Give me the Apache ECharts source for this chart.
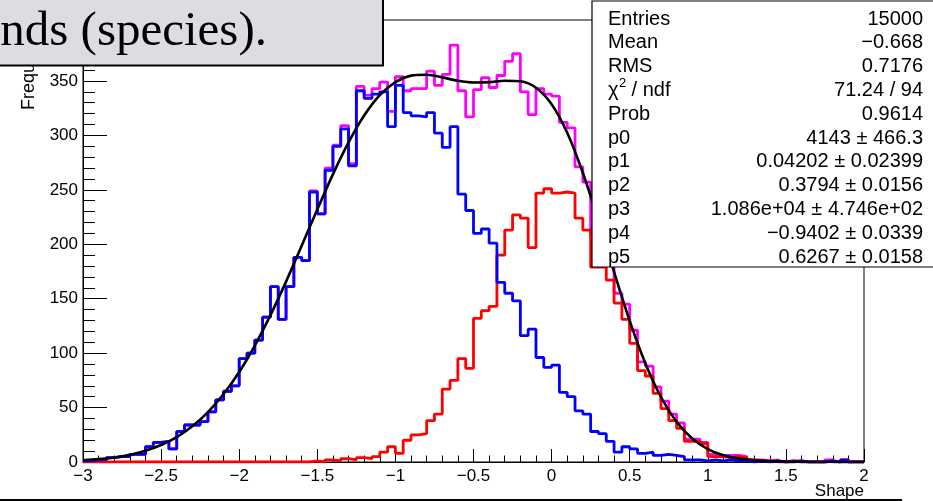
<!DOCTYPE html>
<html>
<head>
<meta charset="utf-8">
<script src="https://cdn.jsdelivr.net/npm/echarts@6/dist/echarts.min.js"></script>
<style>
  html, body { margin: 0; padding: 0; background: #fff; }
  #chart { width: 933px; height: 501px; }
</style>
</head>
<body>
<div id="chart"></div>
<script>
// histogram binning: 100 bins of 0.05 from -3 to 2
const binLow = -3;
const binWidth = 0.05;

// total (magenta)
const totalCounts = [
  1, 2, 2, 4, 5, 5, 7, 7, 14, 18,
  19, 12, 28, 34, 34, 37, 46, 57, 65, 70,
  95, 100, 112, 133, 161, 131, 161, 188, 185, 249,
  228, 270, 291, 309, 274, 345, 337, 343, 349, 322,
  354, 341, 343, 343, 359, 346, 356, 383, 341, 317,
  342, 353, 344, 355, 368, 375, 340, 319, 343, 338,
  336, 312, 307, 271, 257, 207, 205, 186, 155, 145,
  121, 92, 88, 69, 56, 44, 36, 21, 21, 18,
  7, 6, 6, 6, 5, 2, 2, 1, 2, 0,
  1, 1, 0, 0, 0, 2, 0, 2, 0, 0
];
// species 1 (blue)
const blueCounts = [
  1, 2, 2, 4, 5, 5, 7, 7, 14, 18,
  19, 12, 28, 34, 34, 37, 46, 57, 65, 70,
  95, 100, 112, 133, 161, 131, 161, 188, 185, 248,
  228, 268, 290, 306, 272, 341, 334, 338, 340, 308,
  346, 321, 318, 317, 321, 302, 289, 308, 246, 231,
  210, 214, 201, 165, 155, 148, 116, 122, 96, 87,
  89, 64, 60, 47, 44, 28, 26, 19, 9, 14,
  12, 8, 9, 6, 7, 6, 5, 2, 2, 1,
  2, 1, 2, 1, 1, 0, 1, 0, 1, 0,
  0, 1, 0, 0, 0, 1, 0, 2, 0, 0
];
// species 2 (red)
const redCounts = [
  0, 0, 0, 0, 0, 0, 0, 0, 0, 0,
  0, 0, 0, 0, 0, 0, 0, 0, 0, 0,
  0, 0, 0, 0, 0, 0, 0, 0, 0, 1,
  0, 2, 1, 3, 2, 4, 3, 5, 9, 14,
  8, 20, 25, 26, 38, 44, 67, 75, 95, 86,
  132, 139, 143, 190, 213, 227, 224, 197, 247, 251,
  247, 248, 247, 224, 213, 179, 179, 167, 146, 131,
  109, 84, 79, 63, 49, 38, 31, 19, 19, 17,
  5, 5, 4, 5, 4, 2, 1, 1, 1, 0,
  1, 0, 0, 0, 0, 1, 0, 0, 0, 0
];

// fit curve, sampled every 0.1 from -3 to 2
const fitStart = -3;
const fitStep = 0.1;
const fitValues = [
  1.6, 2.6, 4.2, 6.7, 10.4, 15.6, 22.9, 32.8, 45.8, 62.4,
  82.7, 107.0, 134.9, 165.7, 198.6, 232.0, 264.2, 293.5, 318.2, 336.9,
  349.0, 354.9, 355.7, 353.3, 350.2, 348.6, 348.9, 350.2, 349.7, 343.8,
  328.7, 302.5, 265.7, 221.7, 174.6, 129.7, 90.8, 59.7, 36.9, 21.5,
  11.9, 6.2, 3.1, 1.5, 0.7, 0.3, 0.1, 0.05, 0.02, 0.01, 0
];

const statRows = [
  ['Entries', '15000'],
  ['Mean', '\u22120.668'],
  ['RMS', '0.7176'],
  ['CHI', '71.24 / 94'],
  ['Prob', '0.9614'],
  ['p0', '4143 \u00b1 466.3'],
  ['p1', '0.04202 \u00b1 0.02399'],
  ['p2', '0.3794 \u00b1 0.0156'],
  ['p3', '1.086e+04 \u00b1 4.746e+02'],
  ['p4', '\u22120.9402 \u00b1 0.0339'],
  ['p5', '0.6267 \u00b1 0.0158']
];

const FONT = 'Liberation Sans';

function histPoints(counts) {
  const pts = counts.map((c, i) => [+(binLow + i * binWidth).toFixed(3), c]);
  pts.push([+(binLow + counts.length * binWidth).toFixed(3), counts[counts.length - 1]]);
  return pts;
}

function histSeries(name, counts, color) {
  return {
    name: name,
    type: 'line',
    step: 'end',
    symbol: 'none',
    data: histPoints(counts),
    lineStyle: { color: color, width: 2.8 },
    itemStyle: { color: color }
  };
}

const fitData = fitValues.map((v, i) => [+(fitStart + i * fitStep).toFixed(2), v]);

function minus(v) {
  return v < 0 ? '\u2212' + Math.abs(v) : String(v);
}

// stats box texts
const statGraphics = [];
statRows.forEach((row, k) => {
  const y = 19 + 23.8 * k;
  if (row[0] === 'CHI') {
    statGraphics.push({ type: 'text', x: 608, y: y, z: 101,
      style: { text: '\u03c7', font: '20px ' + FONT, fill: '#000', textVerticalAlign: 'middle' } });
    statGraphics.push({ type: 'text', x: 619, y: y - 7, z: 101,
      style: { text: '2', font: '13px ' + FONT, fill: '#000', textVerticalAlign: 'middle' } });
    statGraphics.push({ type: 'text', x: 626, y: y, z: 101,
      style: { text: ' / ndf', font: '20px ' + FONT, fill: '#000', textVerticalAlign: 'middle' } });
  } else {
    statGraphics.push({ type: 'text', x: 608, y: y, z: 101,
      style: { text: row[0], font: '20px ' + FONT, fill: '#000', textVerticalAlign: 'middle' } });
  }
  statGraphics.push({ type: 'text', x: 923, y: y, z: 101,
    style: { text: row[1], font: '20px ' + FONT, fill: '#000', textAlign: 'right', textVerticalAlign: 'middle' } });
});

const chart = echarts.init(document.getElementById('chart'), null, { renderer: 'canvas' });

chart.setOption({
  animation: false,
  backgroundColor: '#fff',
  grid: {
    left: 83, right: 69, top: 20, bottom: 39,
    show: true, borderColor: '#000', borderWidth: 1
  },
  xAxis: {
    type: 'value',
    min: -3, max: 2, interval: 0.5,
    axisLine: { show: true, onZero: false, lineStyle: { color: '#000', width: 1 } },
    axisTick: { show: true, inside: true, length: 13, lineStyle: { color: '#000', width: 1 } },
    minorTick: { show: true, splitNumber: 5, length: 6.5, lineStyle: { color: '#000', width: 1 } },
    splitLine: { show: false },
    axisLabel: {
      color: '#000', fontFamily: FONT, fontSize: 17, margin: 6,
      formatter: minus
    }
  },
  yAxis: {
    type: 'value',
    min: 0, max: 406, interval: 50,
    axisLine: { show: true, onZero: false, lineStyle: { color: '#000', width: 1 } },
    axisTick: { show: true, inside: true, length: 24, lineStyle: { color: '#000', width: 1 } },
    minorTick: { show: true, splitNumber: 5, length: 12, lineStyle: { color: '#000', width: 1 } },
    splitLine: { show: false },
    axisLabel: {
      color: '#000', fontFamily: FONT, fontSize: 17, margin: 5,
      showMaxLabel: false
    }
  },
  series: [
    histSeries('total', totalCounts, '#ff00ff'),
    histSeries('species 2', redCounts, '#ff0000'),
    histSeries('species 1', blueCounts, '#0000ff'),
    {
      name: 'fit',
      type: 'line',
      smooth: 0.3,
      symbol: 'none',
      data: fitData,
      lineStyle: { color: '#000', width: 2.6 },
      z: 3
    }
  ],
  graphic: [
    // y axis title (mostly hidden by the title box)
    { type: 'text', x: 29, y: 110, rotation: Math.PI / 2, z: 50,
      style: { text: 'Frequency', font: '18px ' + FONT, fill: '#000', textAlign: 'left', textVerticalAlign: 'middle' } },
    // x axis title
    { type: 'text', x: 864, y: 491, z: 50,
      style: { text: 'Shape', font: '17px ' + FONT, fill: '#000', textAlign: 'right', textVerticalAlign: 'middle' } },
    // title box
    { type: 'rect', z: 100, shape: { x: -5, y: -5, width: 388, height: 70.5 },
      style: { fill: '#dcdde0', stroke: '#000', lineWidth: 2 } },
    { type: 'text', x: 267, y: 32.5, z: 101,
      style: { text: 'nds (species).', font: '49px "Liberation Serif"', fill: '#000', textAlign: 'right', textVerticalAlign: 'middle' } },
    // stats box
    { type: 'rect', z: 100, shape: { x: 592, y: 1, width: 400, height: 266 },
      style: { fill: '#fff', stroke: '#000', lineWidth: 1.2 } },
    // bottom border
    { type: 'line', z: 100, shape: { x1: 0, y1: 500, x2: 902, y2: 500 },
      style: { stroke: '#000', lineWidth: 2 } }
  ].concat(statGraphics)
});
</script>
</body>
</html>
